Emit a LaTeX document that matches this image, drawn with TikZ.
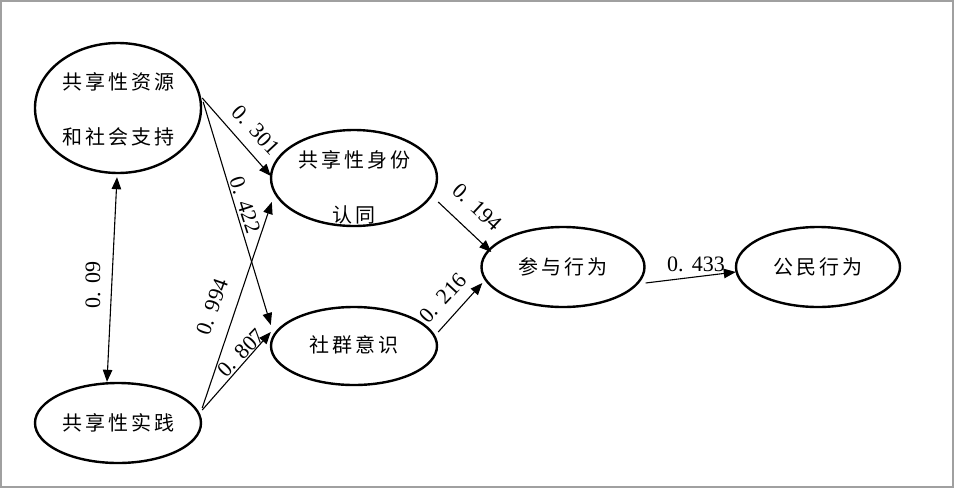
\documentclass[tikz,border=0pt]{standalone}
\usepackage{fontspec}
\newfontfamily\cjk[LetterSpace=15]{Noto Sans CJK SC}
\newfontfamily\numfont{Liberation Serif}
\newcommand\coef[2]{#1.\hspace{8.5pt}#2}
\usetikzlibrary{shapes.geometric,arrows.meta,calc}
\tikzset{
  oval/.style={draw=black, line width=2.4pt, ellipse, inner sep=0pt},
  ctext/.style={font=\cjk\fontsize{20}{55}\selectfont, align=center, inner sep=0pt, text=black},
  num/.style={font=\numfont\fontsize{22}{22}\selectfont, inner sep=0pt, text=black},
  path/.style={draw=black, line width=1.1pt, -{Triangle[length=12pt,width=9.5pt]}},
  dpath/.style={draw=black, line width=1.1pt, {Triangle[length=12pt,width=9.5pt]}-{Triangle[length=12pt,width=9.5pt]}}
}
\begin{document}
\begin{tikzpicture}[x=1pt,y=-1pt]
\useasboundingbox (0,0) rectangle (954,488);
\fill[white] (0,0) rectangle (954,488);
\draw[draw={rgb,255:red,160;green,160;blue,160}, line width=2pt] (1,1) rectangle (953,487);

% ellipses
\node[oval, minimum width=166pt, minimum height=130pt] (res) at (118,108) {};
\node[ctext] (rest) at (118,109) {共享性资源\\和社会支持};
\node[oval, minimum width=166pt, minimum height=80pt] (prac) at (118,423) {};
\node[ctext] (pract) at (118,423) {共享性实践};
\node[oval, minimum width=166pt, minimum height=96pt] (iden) at (354,178) {};
\node[ctext] (ident) at (354,187) {共享性身份\\认同};
\node[oval, minimum width=166pt, minimum height=78pt] (comm) at (354,346) {};
\node[ctext] (commt) at (354,345) {社群意识};
\node[oval, minimum width=163pt, minimum height=80pt] (part) at (563,267) {};
\node[ctext] (partt) at (563,267) {参与行为};
\node[oval, minimum width=164pt, minimum height=80pt] (civ) at (818,267) {};
\node[ctext] (civt) at (818,267) {公民行为};

% connectors
\draw[path] ([yshift=10pt]res.east) -- ([xshift=1pt,yshift=2pt]iden.west);
\draw[path] ([xshift=1pt,yshift=6pt]res.east) -- ([xshift=1pt,yshift=21pt]comm.west);
\draw[path] ([yshift=15pt]prac.east) -- ([xshift=2pt,yshift=-24pt]iden.west);
\draw[path] ([yshift=13pt]prac.east) -- ([xshift=1pt,yshift=14pt]comm.west);
\draw[path] ([yshift=-24pt]iden.east) -- ([xshift=11pt,yshift=15pt]part.west);
\draw[path] ([yshift=14pt]comm.east) -- ([xshift=2pt,yshift=-16pt]part.west);
\draw[path] ([yshift=-16pt]part.east) -- ([xshift=1pt,yshift=-5pt]civ.west);
\draw[dpath] ([xshift=-1pt,yshift=-3pt]res.south) -- ([xshift=-11pt]prac.north);

% labels
\node[num, rotate=-47] (l301) at (256,130) {\coef{0}{301}};
\node[num, rotate=-72] (l422) at (245,205) {\coef{0}{422}};
\node[num, rotate=70.5] (l994) at (212,307) {\coef{0}{994}};
\node[num, rotate=46] (l807) at (241,353) {\coef{0}{807}};
\node[num, rotate=-43] (l194) at (477,207) {\coef{0}{194}};
\node[num, rotate=47] (l216) at (443,298) {\coef{0}{216}};
\node[num] (l433) at (696,264) {\coef{0}{433}};
\node[num, rotate=90] (l09) at (93,285) {\coef{0}{09}};
\end{tikzpicture}
\end{document}
